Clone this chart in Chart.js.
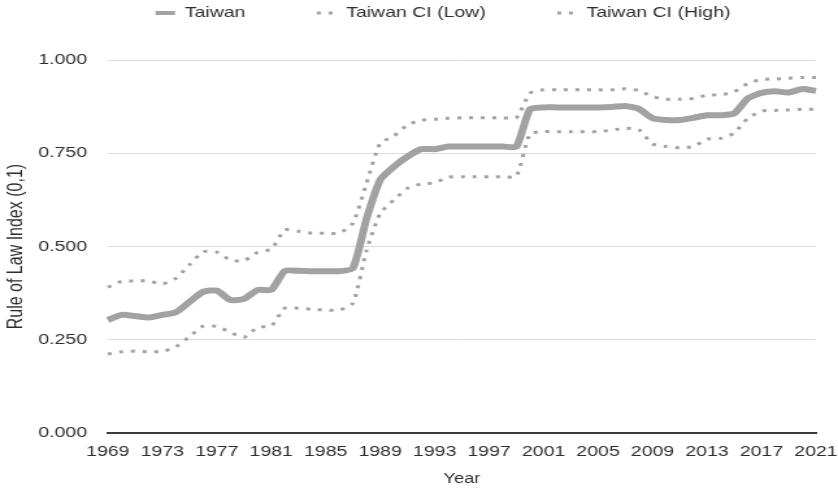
<!DOCTYPE html>
<html>
<head>
<meta charset="utf-8">
<script src="https://cdn.jsdelivr.net/npm/chart.js@4/dist/chart.umd.min.js"></script>
<style>
    html, body { margin: 0; padding: 0; background: #fff; overflow: hidden; }
    /* the reference is stretched sideways, so draw narrow and widen */
    #wrap { width: 645px; height: 488px; transform: scaleX(1.29922); transform-origin: 0 0; }
</style>
</head>
<body>
<div id="wrap"><canvas id="rol"></canvas></div>
<script>
// Years 1969..2021
const years = [];
for (let y = 1969; y <= 2021; y++) years.push(String(y));

const taiwan = [
    0.303, 0.317, 0.314, 0.310, 0.317, 0.324, 0.352, 0.379, 0.382, 0.357,
    0.360, 0.384, 0.384, 0.435, 0.435, 0.434, 0.434, 0.434, 0.442, 0.575,
    0.679, 0.714, 0.741, 0.761, 0.761, 0.768, 0.768, 0.768, 0.768, 0.768,
    0.768, 0.868, 0.873, 0.873, 0.873, 0.873, 0.873, 0.874, 0.877, 0.869,
    0.844, 0.839, 0.839, 0.845, 0.852, 0.852, 0.857, 0.897, 0.912, 0.916,
    0.913, 0.922, 0.917
];

const ciLow = [
    0.212, 0.218, 0.220, 0.218, 0.219, 0.232, 0.259, 0.287, 0.286, 0.270,
    0.257, 0.284, 0.287, 0.335, 0.335, 0.332, 0.330, 0.330, 0.348, 0.490,
    0.589, 0.625, 0.656, 0.668, 0.671, 0.686, 0.687, 0.687, 0.687, 0.687,
    0.688, 0.802, 0.808, 0.808, 0.808, 0.808, 0.808, 0.812, 0.817, 0.813,
    0.775, 0.768, 0.765, 0.768, 0.788, 0.790, 0.804, 0.844, 0.863, 0.865,
    0.866, 0.868, 0.868
];

const ciHigh = [
    0.391, 0.407, 0.408, 0.408, 0.400, 0.415, 0.451, 0.486, 0.485, 0.464,
    0.462, 0.485, 0.493, 0.545, 0.541, 0.536, 0.536, 0.536, 0.563, 0.670,
    0.777, 0.796, 0.826, 0.839, 0.841, 0.844, 0.845, 0.845, 0.845, 0.845,
    0.845, 0.911, 0.920, 0.920, 0.920, 0.920, 0.920, 0.920, 0.923, 0.918,
    0.902, 0.895, 0.895, 0.897, 0.906, 0.907, 0.915, 0.937, 0.948, 0.949,
    0.951, 0.953, 0.953
];

const yTicks = [0, 0.25, 0.5, 0.75, 1];

const gray = "#a2a2a5";
const textColor = "#2e2e2e";
const font = "'Liberation Sans', Arial, Helvetica, sans-serif";
const dots = [3, 6];
const legendPad = 55;

// legend sits near the top edge, plot starts lower
const legendPlace = {
    id: "legendPlace",
    beforeInit(chart) {
        const fit = chart.legend.fit;
        chart.legend.fit = function () {
            fit.bind(chart.legend)();
            this.height = 60;
        };
    },
    afterLayout(chart) {
        const lg = chart.legend;
        lg.top = 13 - 7.5 - legendPad;
        lg.left += 17;
        lg.right += 17;
    },
};

new Chart(document.getElementById("rol"), {
    type: "line",
    data: {
        labels: years,
        datasets: [
            {
                label: "Taiwan",
                data: taiwan,
                borderColor: gray,
                backgroundColor: gray,
                borderWidth: 6,
                pointRadius: 0,
                tension: 0.2,
                borderJoinStyle: "round",
            },
            {
                label: "Taiwan CI (Low)",
                data: ciLow,
                borderColor: gray,
                backgroundColor: gray,
                borderWidth: 3,
                borderDash: dots,
                pointRadius: 0,
                tension: 0.2,
            },
            {
                label: "Taiwan CI (High)",
                data: ciHigh,
                borderColor: gray,
                backgroundColor: gray,
                borderWidth: 3,
                borderDash: dots,
                pointRadius: 0,
                tension: 0.2,
            },
        ],
    },
    options: {
        responsive: true,
        maintainAspectRatio: false,
        animation: false,
        layout: { padding: { top: 0, right: 0, left: 3, bottom: 0 } },
        plugins: {
            legend: {
                position: "top",
                labels: {
                    color: textColor,
                    font: { family: font, size: 15 },
                    usePointStyle: true,
                    pointStyle: "line",
                    pointStyleWidth: 15,
                    boxHeight: 10,
                    padding: legendPad,
                    generateLabels: (chart) =>
                        Chart.defaults.plugins.legend.labels.generateLabels(chart).map((item, i) => ({
                            ...item,
                            lineWidth: i === 0 ? 4 : 3,
                            lineDash: i === 0 ? [] : dots,
                            lineCap: "butt",
                        })),
                },
            },
            tooltip: { enabled: false },
        },
        scales: {
            x: {
                afterFit: (scale) => {
                    scale.paddingRight = 17;
                },
                grid: { display: false, drawTicks: false },
                border: { display: true, color: "#3a3a3a", width: 2 },
                ticks: {
                    color: textColor,
                    font: { family: font, size: 15 },
                    autoSkip: false,
                    maxRotation: 0,
                    padding: 10,
                    callback: (v, i) => (i % 4 === 0 ? years[i] : null),
                },
                title: {
                    display: true,
                    text: "Year",
                    color: textColor,
                    font: { family: font, size: 14 },
                    padding: { top: 0, bottom: 0 },
                },
            },
            y: {
                min: 0,
                max: 1,
                afterBuildTicks: (axis) => {
                    axis.ticks = yTicks.map((v) => ({ value: v }));
                },
                afterFit: (scale) => {
                    scale.width = 80;
                },
                grid: { color: "#dcdcdc", lineWidth: 1, drawTicks: false },
                border: { display: false },
                ticks: {
                    color: textColor,
                    font: { family: font, size: 15 },
                    padding: 16,
                    callback: (v) => Number(v).toFixed(3),
                },
                title: {
                    display: true,
                    text: "Rule of Law Index (0,1)",
                    color: textColor,
                    font: { family: font, size: 16 },
                    padding: { top: 0, bottom: 8 },
                },
            },
        },
    },
    plugins: [legendPlace],
});
</script>
</body>
</html>
